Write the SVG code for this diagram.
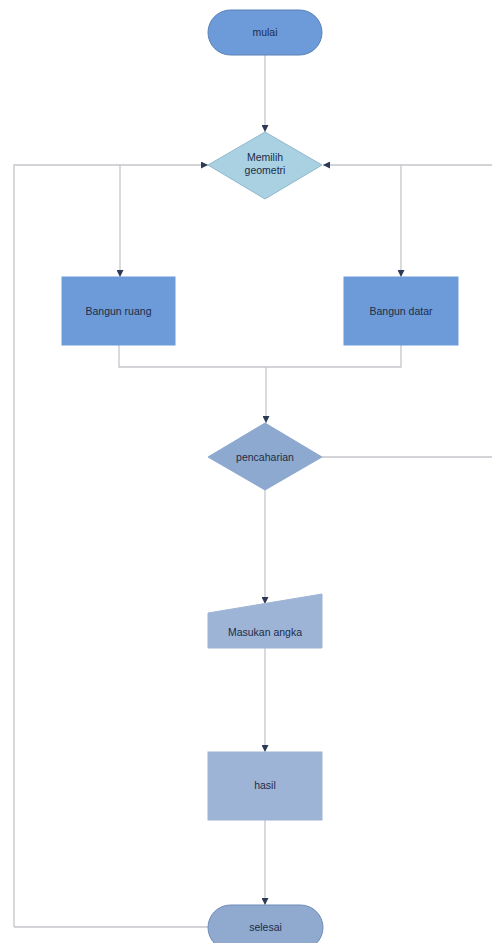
<svg xmlns="http://www.w3.org/2000/svg" width="492" height="943" viewBox="0 0 492 943">
<style>
.ln{fill:none;stroke:#c4c6ca;stroke-width:1.3}
.t{font-family:"Liberation Sans",Arial,sans-serif;font-size:10.5px;fill:#1e2c48;text-anchor:middle}
.nb{stroke:#5a80b4;stroke-width:1}
</style>
<defs>
<marker id="ah" viewBox="0 0 10 10" refX="10" refY="5" markerWidth="7" markerHeight="7" orient="auto" markerUnits="userSpaceOnUse">
<path d="M0,0 L10,5 L0,10 z" fill="#2c3a55"/>
</marker>
</defs>
<rect width="492" height="943" fill="#ffffff"/>
<g id="connectors">
<path class="ln" d="M265,55 L265,132" marker-end="url(#ah)"/>
<path class="ln" d="M14,927 L14,165 L208,165" marker-end="url(#ah)"/>
<path class="ln" d="M492,165 L323,165" marker-end="url(#ah)"/>
<path class="ln" d="M120,165 L120,277" marker-end="url(#ah)"/>
<path class="ln" d="M401,165 L401,277" marker-end="url(#ah)"/>
<path class="ln" d="M119,345 L119,367 L401,367 L401,345"/>
<path class="ln" d="M266,367 L266,423" marker-end="url(#ah)"/>
<path class="ln" d="M322,457 L492,457"/>
<path class="ln" d="M265,490 L265,604" marker-end="url(#ah)"/>
<path class="ln" d="M265,648 L265,752" marker-end="url(#ah)"/>
<path class="ln" d="M265,820 L265,905" marker-end="url(#ah)"/>
<path class="ln" d="M14,927 L208,927"/>
</g>
<g id="mulai">
<rect x="208" y="10" width="114" height="45" rx="22.5" fill="#6d9bd9" class="nb"/>
<text class="t" x="265" y="36">mulai</text>
</g>
<g id="memilih">
<polygon points="265,132 322,165 265,199 208,165" fill="#a9d1e1" stroke="#8fb8cc" stroke-width="1"/>
<text class="t" x="265" y="161">Memilih</text>
<text class="t" x="265" y="174">geometri</text>
</g>
<g id="bangun-ruang">
<rect x="62" y="277" width="113" height="68" fill="#6d9bd9" stroke="#6d9bd9"/>
<text class="t" x="118.5" y="315">Bangun ruang</text>
</g>
<g id="bangun-datar">
<rect x="344" y="277" width="114" height="68" fill="#6d9bd9" stroke="#6d9bd9"/>
<text class="t" x="401" y="315">Bangun datar</text>
</g>
<g id="pencaharian">
<polygon points="265,423 322,457 265,490 208,457" fill="#8ea9cf" stroke="#8ea9cf" stroke-width="1"/>
<text class="t" x="265" y="461">pencaharian</text>
</g>
<g id="masukan">
<polygon points="208,613 322,594 322,648 208,648" fill="#9db4d6" stroke="#9db4d6"/>
<text class="t" x="265" y="636">Masukan angka</text>
</g>
<g id="hasil">
<rect x="208" y="752" width="114" height="68" fill="#9db4d6" stroke="#9db4d6"/>
<text class="t" x="265" y="789">hasil</text>
</g>
<g id="selesai">
<rect x="208" y="905" width="115" height="45" rx="22.5" fill="#8fa9cf" stroke="#6f8db8" stroke-width="1"/>
<text class="t" x="265.5" y="931">selesai</text>
</g>
</svg>
